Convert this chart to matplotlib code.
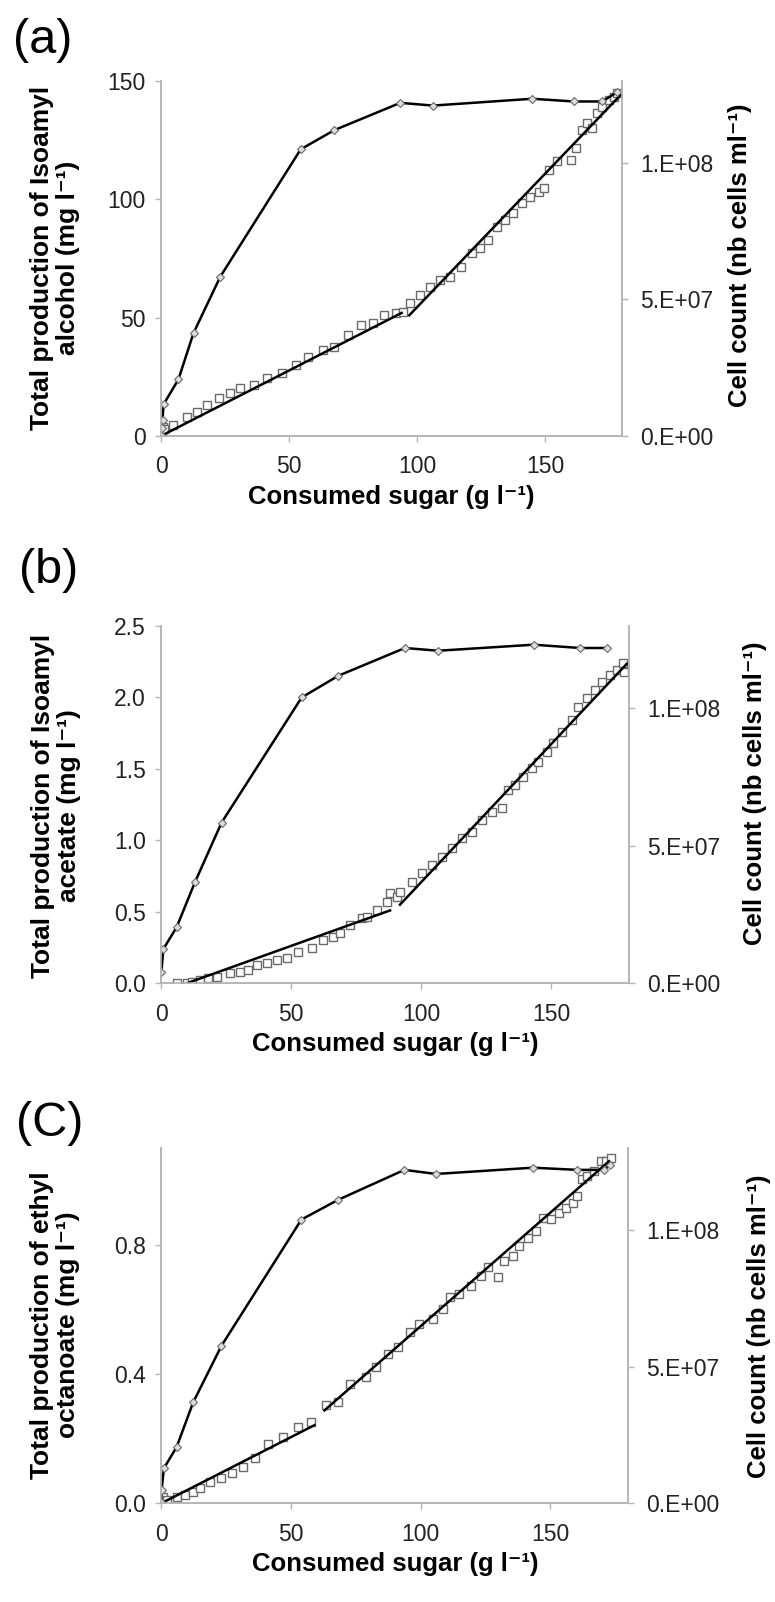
import numpy as np
import matplotlib.pyplot as plt

plt.rcParams['font.family'] = ['Liberation Sans', 'DejaVu Sans']

# ---------------- data ----------------
# (a) isoamyl alcohol (mg/l) vs consumed sugar (g/l)
a_sq_x = [0, 0.3, 0.6, 1.0, 4.8, 10.1, 14.0, 18.0, 22.5, 27.1, 31.0, 36.3, 41.5, 47.4, 52.6,
          57.5, 63.1, 67.7, 72.9, 78.2, 82.8, 87.3, 91.9, 94.5, 97.1, 101.0, 105.0, 108.9,
          112.8, 117.4, 121.4, 124.6, 127.9, 131.2, 134.4, 137.7, 141.0, 144.3, 147.6,
          149.5, 151.5, 154.8, 160.0, 162.0, 164.6, 166.5, 168.5, 170.5, 172.4, 175.0,
          177.0, 178.3]
a_sq_y = [0.5, 2.0, 4.0, 3.0, 4.6, 8.2, 10.3, 13.1, 15.9, 18.0, 20.2, 21.6, 24.4, 26.5, 30.0,
          33.5, 36.3, 37.7, 42.7, 46.9, 47.6, 51.1, 51.9, 52.5, 56.0, 59.6, 63.1, 66.0,
          67.3, 71.6, 77.2, 79.3, 82.8, 88.5, 91.3, 94.1, 98.3, 101.1, 103.3,
          104.7, 112.4, 116.0, 116.7, 121.6, 129.3, 132.2, 130.1, 136.4, 139.2, 142.0,
          143.4, 144.8]
a_fit1_x, a_fit1_y = [0, 94], [0, 52]
a_fit2_x, a_fit2_y = [97, 179.5], [51, 144]
a_cell_x = [0, 0.3, 0.6, 1.0, 6.8, 12.7, 23.2, 54.6, 67.7, 93.5, 106.3, 145.0, 161.3, 172.4, 178.3]
a_cell_y = [0.5e6, 3e6, 6e6, 1.16e7, 2.07e7, 3.77e7, 5.84e7, 1.05e8, 1.12e8, 1.22e8, 1.21e8,
            1.235e8, 1.225e8, 1.225e8, 1.26e8]

# (b) isoamyl acetate (mg/l)
b_sq_x = [5.9, 9.8, 11.7, 14.9, 18.1, 21.3, 26.4, 30.3, 33.5, 36.7, 40.5, 44.4, 48.2, 52.7,
          57.8, 62.3, 66.2, 68.7, 72.6, 77.1, 79.0, 82.8, 86.7, 88.0, 90.5, 91.8, 96.3, 100.2,
          104.0, 107.8, 111.7, 115.5, 119.4, 123.2, 127.1, 130.9, 133.5, 136.1, 139.2, 142.5,
          145.0, 148.2, 150.8, 154.0, 157.8, 160.4, 163.6, 166.8, 169.4, 172.6, 175.1, 177.7,
          177.9]
b_sq_y = [0.0, 0.0, 0.01, 0.02, 0.035, 0.047, 0.07, 0.08, 0.093, 0.128, 0.14, 0.163, 0.175,
          0.22, 0.245, 0.303, 0.326, 0.35, 0.408, 0.455, 0.466, 0.513, 0.571, 0.629, 0.606,
          0.64, 0.71, 0.77, 0.827, 0.886, 0.944, 1.014, 1.06, 1.142, 1.2, 1.224, 1.352, 1.387,
          1.445, 1.503, 1.55, 1.62, 1.678, 1.76, 1.841, 1.934, 1.993, 2.05, 2.11, 2.157, 2.19,
          2.238, 2.18]
b_fit1_x, b_fit1_y = [9.8, 88], [0.0, 0.51]
b_fit2_x, b_fit2_y = [91.8, 179], [0.55, 2.235]
b_cell_x = [0, 0.8, 5.9, 12.9, 23.2, 54.0, 68.1, 93.7, 106.5, 143.2, 161.0, 171.3]
b_cell_y = [4e6, 1.25e7, 2.04e7, 3.67e7, 5.85e7, 1.04e8, 1.119e8, 1.22e8, 1.21e8, 1.232e8,
            1.22e8, 1.22e8]

# (c) ethyl octanoate (mg/l)
c_sq_x = [0, 0.3, 0.7, 2.1, 5.9, 9.1, 12.3, 14.9, 18.7, 23.2, 27.1, 31.5, 36.0, 41.2, 46.9,
          52.7, 57.8, 63.6, 68.1, 72.6, 79.0, 82.8, 87.3, 91.2, 95.7, 99.5, 104.6, 108.5,
          111.1, 114.9, 119.4, 123.2, 125.8, 129.6, 132.2, 135.4, 138.0, 141.2, 144.4, 147.0,
          150.2, 153.4, 156.0, 158.5, 160.4, 162.3, 164.2, 166.8, 169.4, 171.3, 173.2]
c_sq_y = [0.0, 0.01, 0.02, 0.01, 0.02, 0.026, 0.036, 0.046, 0.067, 0.077, 0.093, 0.113, 0.139,
          0.185, 0.206, 0.237, 0.252, 0.304, 0.314, 0.371, 0.391, 0.422, 0.463, 0.484, 0.53,
          0.556, 0.571, 0.602, 0.638, 0.649, 0.674, 0.705, 0.731, 0.70, 0.751, 0.767, 0.798,
          0.823, 0.844, 0.885, 0.88, 0.90, 0.916, 0.931, 0.952, 1.004, 1.014, 1.03, 1.06,
          1.06, 1.07]
c_fit1_x, c_fit1_y = [0, 59], [0, 0.242]
c_fit2_x, c_fit2_y = [62.9, 172.6], [0.288, 1.06]
c_cell_x = [0, 0.1, 1.0, 5.9, 12.3, 23.2, 54.0, 68.1, 93.7, 105.9, 143.2, 160.4, 170.6, 173.0]
c_cell_y = [0.6e6, 4.8e6, 1.28e7, 2.06e7, 3.7e7, 5.77e7, 1.039e8, 1.111e8, 1.221e8, 1.206e8,
            1.229e8, 1.221e8, 1.221e8, 1.24e8]

SUP = "\u207b\u00b9"   # superscript -1

panels = [
    dict(tag="(a)", sq=(a_sq_x, a_sq_y), fits=[(a_fit1_x, a_fit1_y), (a_fit2_x, a_fit2_y)],
         cell=(a_cell_x, a_cell_y), ymax=150, yticks=[0, 50, 100, 150],
         yticklabels=["0", "50", "100", "150"],
         ylabel="Total production of Isoamyl\nalcohol (mg l" + SUP + ")",
         box=(161, 81, 621.7, 436), tagpos=(13, 18), ylab=(55, 258), rlab=(740, 255)),
    dict(tag="(b)", sq=(b_sq_x, b_sq_y), fits=[(b_fit1_x, b_fit1_y), (b_fit2_x, b_fit2_y)],
         cell=(b_cell_x, b_cell_y), ymax=2.5, yticks=[0, 0.5, 1.0, 1.5, 2.0, 2.5],
         yticklabels=["0.0", "0.5", "1.0", "1.5", "2.0", "2.5"],
         ylabel="Total production of Isoamyl\nacetate (mg l" + SUP + ")",
         box=(161.3, 626, 629.3, 983.3), tagpos=(19, 548), ylab=(56, 806), rlab=(755, 793)),
    dict(tag="(C)", sq=(c_sq_x, c_sq_y), fits=[(c_fit1_x, c_fit1_y), (c_fit2_x, c_fit2_y)],
         cell=(c_cell_x, c_cell_y), ymax=1.1, yticks=[0, 0.4, 0.8],
         yticklabels=["0.0", "0.4", "0.8"],
         ylabel="Total production of ethyl\noctanoate (mg l" + SUP + ")",
         box=(161.3, 1148.3, 628.3, 1503.3), tagpos=(16, 1101), ylab=(55, 1325), rlab=(759, 1326)),
]

W, H = 775, 1602
fig = plt.figure(figsize=(W / 100, H / 100), dpi=100)

spine_col = "#b5b5b5"
tick_col = "#222222"
mark_col = "#6a6a6a"

for p in panels:
    x0, y0, x1, y1 = p["box"]
    ax = fig.add_axes([x0 / W, 1 - y1 / H, (x1 - x0) / W, (y1 - y0) / H])
    ax2 = ax.twinx()

    # production (squares + two linear fits) on the left axis
    ax.plot(p["sq"][0], p["sq"][1], ls="none", marker="s", ms=6, mfc="white",
            mec=mark_col, mew=1.0, zorder=3)
    for fx, fy in p["fits"]:
        ax.plot(fx, fy, color="black", lw=1.8, zorder=4)

    # cell count (diamonds + line) on the right axis
    ax2.plot(p["cell"][0], p["cell"][1], color="black", lw=1.8, marker="D", ms=4,
             mfc="#dddddd", mec=mark_col, mew=0.8)

    ax.set_xlim(0, 180)
    ax.set_ylim(0, p["ymax"])
    ax2.set_ylim(0, 1.3e8)
    ax.set_xticks([0, 50, 100, 150])
    ax.set_yticks(p["yticks"])
    ax.set_yticklabels(p["yticklabels"])
    ax2.set_yticks([0, 5e7, 1e8])
    ax2.set_yticklabels(["0.E+00", "5.E+07", "1.E+08"])

    for a in (ax, ax2):
        a.spines["top"].set_visible(False)
        for s in a.spines.values():
            s.set_color(spine_col)
            s.set_linewidth(1.2)
        a.tick_params(length=4, width=1, color=spine_col, labelsize=16.5,
                      labelcolor=tick_col)
    ax.tick_params(axis="x", pad=10)
    ax.tick_params(axis="y", pad=7)
    ax2.tick_params(axis="y", pad=9)
    ax.patch.set_visible(False)

    # labels
    fig.text(p["ylab"][0] / W, 1 - p["ylab"][1] / H, p["ylabel"], rotation=90,
             ha="center", va="center", fontsize=19, fontweight="bold",
             linespacing=1.15, multialignment="center")
    fig.text(p["rlab"][0] / W, 1 - p["rlab"][1] / H, "Cell count (nb cells ml" + SUP + ")",
             rotation=90, ha="center", va="center", fontsize=18.5, fontweight="bold")
    fig.text((x0 + x1) / 2 / W, 1 - (y1 + 61) / H, "Consumed sugar (g l" + SUP + ")",
             ha="center", va="center", fontsize=18.5, fontweight="bold")
    fig.text(p["tagpos"][0] / W, 1 - p["tagpos"][1] / H, p["tag"], ha="left", va="top",
             fontsize=35)

fig.savefig("out.png", dpi=100)
